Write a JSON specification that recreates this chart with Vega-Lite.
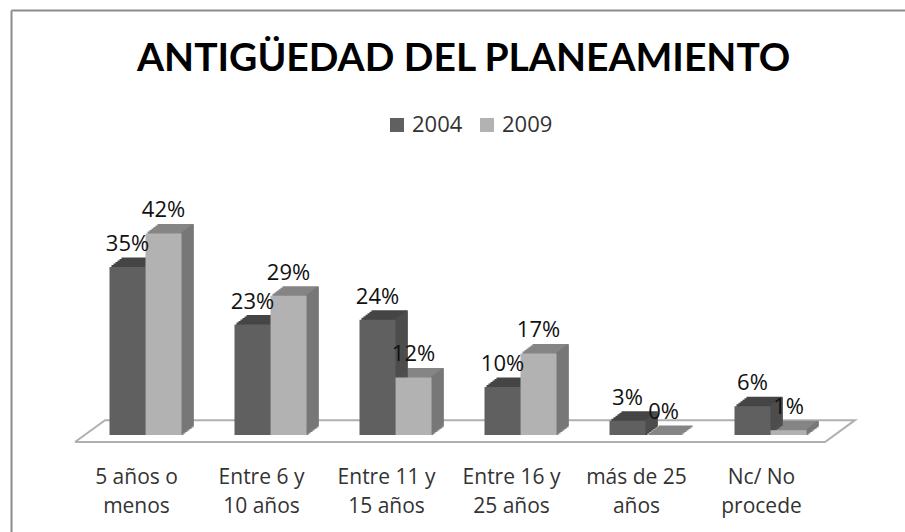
{"$schema":"https://vega.github.io/schema/vega-lite/v6.json","width":894,"height":522,"autosize":{"type":"none"},"padding":{"left":11,"top":10,"right":0,"bottom":0},"background":"white","view":{"stroke":null},
"title":{"text":"ANTIGÜEDAD DEL PLANEAMIENTO","font":"Lato","fontSize":39,"fontWeight":"bold","color":"#000","anchor":"start","frame":"group","dx":126,"dy":100,"baseline":"alphabetic","offset":0},
"datasets":{"bars":[{"c":"5 años o|menos","s":"2004","v":0.35},{"c":"5 años o|menos","s":"2009","v":0.42},{"c":"Entre 6 y|10 años","s":"2004","v":0.23},{"c":"Entre 6 y|10 años","s":"2009","v":0.29},{"c":"Entre 11 y|15 años","s":"2004","v":0.24},{"c":"Entre 11 y|15 años","s":"2009","v":0.12},{"c":"Entre 16 y|25 años","s":"2004","v":0.10},{"c":"Entre 16 y|25 años","s":"2009","v":0.17},{"c":"más de 25|años","s":"2004","v":0.03},{"c":"más de 25|años","s":"2009","v":0},{"c":"Nc/ No|procede","s":"2004","v":0.06},{"c":"Nc/ No|procede","s":"2009","v":0.01}],
"floor":[{"u":-0.064,"p":-0.0146,"o":1},{"u":0.176,"p":0.031,"o":2},{"u":6.176,"p":0.031,"o":3},{"u":5.936,"p":-0.0146,"o":4},{"u":-0.064,"p":-0.0146,"o":5}]},
"resolve":{"scale":{"x":"independent"},"axis":{"x":"independent"}},
"layer":[
{"data":{"name":"floor"},"mark":{"type":"line","color":"#b0b0b0","strokeWidth":2,"clip":false},"encoding":{
"x":{"field":"u","type":"quantitative","scale":{"domain":[-0.576,6.576],"nice":false,"zero":false},"axis":{"orient":"top","title":null,"labels":false,"ticks":false,"grid":false,"domain":true,"domainColor":"#8c8c8c","domainWidth":2}},
"y":{"field":"p","type":"quantitative","scale":{"domain":[-0.202,0.8854],"nice":false,"zero":false},"axis":{"title":null,"labels":false,"ticks":false,"grid":false,"domain":true,"domainColor":"#8c8c8c","domainWidth":2}},
"order":{"field":"o"}}},
{"data":{"name":"bars"},
"resolve":{"scale":{"xOffset":"independent"}},
"encoding":{
"x":{"field":"c","type":"nominal","sort":null,"scale":{"range":[72,822],"paddingInner":0,"paddingOuter":0},"axis":{"title":null,"orient":"bottom","offset":-87,"domain":false,"ticks":false,"labelAngle":0,"labelOffset":-9,"labelPadding":21,"labelFontSize":21,"labelFont":"Open Sans","labelColor":"#333","labelLineHeight":29,"labelBaseline":"top","labelExpr":"split(datum.label,'|')"}},
"y":{"field":"v","type":"quantitative"}},
"layer":[
{"mark":{"type":"bar","width":34,"yOffset":-8.5,"strokeWidth":2},"encoding":{"stroke":{"condition":{"test":"datum.s=='2004'","value":"#454545"},"value":"#858585"},"fill":{"condition":{"test":"datum.s=='2004'","value":"#454545"},"value":"#858585"},"xOffset":{"field":"s","type":"nominal","scale":{"paddingInner":0,"paddingOuter":0.736,"range":[12,137]}}}},
{"mark":{"type":"bar","width":34,"yOffset":-7,"strokeWidth":2},"encoding":{"stroke":{"condition":{"test":"datum.s=='2004'","value":"#454545"},"value":"#858585"},"fill":{"condition":{"test":"datum.s=='2004'","value":"#454545"},"value":"#858585"},"xOffset":{"field":"s","type":"nominal","scale":{"paddingInner":0,"paddingOuter":0.736,"range":[10,135]}}}},
{"mark":{"type":"bar","width":34,"yOffset":-5.5,"strokeWidth":2},"encoding":{"stroke":{"condition":{"test":"datum.s=='2004'","value":"#454545"},"value":"#858585"},"fill":{"condition":{"test":"datum.s=='2004'","value":"#454545"},"value":"#858585"},"xOffset":{"field":"s","type":"nominal","scale":{"paddingInner":0,"paddingOuter":0.736,"range":[8,133]}}}},
{"mark":{"type":"bar","width":34,"yOffset":-4,"strokeWidth":2},"encoding":{"stroke":{"condition":{"test":"datum.s=='2004'","value":"#454545"},"value":"#858585"},"fill":{"condition":{"test":"datum.s=='2004'","value":"#454545"},"value":"#858585"},"xOffset":{"field":"s","type":"nominal","scale":{"paddingInner":0,"paddingOuter":0.736,"range":[6,131]}}}},
{"mark":{"type":"bar","width":34,"yOffset":-2.5,"strokeWidth":2},"encoding":{"stroke":{"condition":{"test":"datum.s=='2004'","value":"#454545"},"value":"#858585"},"fill":{"condition":{"test":"datum.s=='2004'","value":"#454545"},"value":"#858585"},"xOffset":{"field":"s","type":"nominal","scale":{"paddingInner":0,"paddingOuter":0.736,"range":[4,129]}}}},
{"mark":{"type":"bar","width":34,"yOffset":-1,"strokeWidth":2},"encoding":{"stroke":{"condition":{"test":"datum.s=='2004'","value":"#454545"},"value":"#858585"},"fill":{"condition":{"test":"datum.s=='2004'","value":"#454545"},"value":"#858585"},"xOffset":{"field":"s","type":"nominal","scale":{"paddingInner":0,"paddingOuter":0.736,"range":[2,127]}}}},
{"mark":{"type":"bar","width":2.5,"yOffset":-9},"encoding":{"fill":{"condition":{"test":"datum.s=='2004'","value":"#4d4d4d"},"value":"#777777"},"xOffset":{"field":"s","type":"nominal","scale":{"paddingInner":0,"paddingOuter":0.736,"range":[29,154]}}}},
{"mark":{"type":"bar","width":2.5,"yOffset":-7.5},"encoding":{"fill":{"condition":{"test":"datum.s=='2004'","value":"#4d4d4d"},"value":"#777777"},"xOffset":{"field":"s","type":"nominal","scale":{"paddingInner":0,"paddingOuter":0.736,"range":[27,152]}}}},
{"mark":{"type":"bar","width":2.5,"yOffset":-6},"encoding":{"fill":{"condition":{"test":"datum.s=='2004'","value":"#4d4d4d"},"value":"#777777"},"xOffset":{"field":"s","type":"nominal","scale":{"paddingInner":0,"paddingOuter":0.736,"range":[25,150]}}}},
{"mark":{"type":"bar","width":2.5,"yOffset":-4.5},"encoding":{"fill":{"condition":{"test":"datum.s=='2004'","value":"#4d4d4d"},"value":"#777777"},"xOffset":{"field":"s","type":"nominal","scale":{"paddingInner":0,"paddingOuter":0.736,"range":[23,148]}}}},
{"mark":{"type":"bar","width":2.5,"yOffset":-3},"encoding":{"fill":{"condition":{"test":"datum.s=='2004'","value":"#4d4d4d"},"value":"#777777"},"xOffset":{"field":"s","type":"nominal","scale":{"paddingInner":0,"paddingOuter":0.736,"range":[21,146]}}}},
{"mark":{"type":"bar","width":2.5,"yOffset":-1.5},"encoding":{"fill":{"condition":{"test":"datum.s=='2004'","value":"#4d4d4d"},"value":"#777777"},"xOffset":{"field":"s","type":"nominal","scale":{"paddingInner":0,"paddingOuter":0.736,"range":[19,144]}}}},
{"mark":{"type":"bar","width":36},"encoding":{"color":{"field":"s","type":"nominal","scale":{"domain":["2004","2009"],"range":["#606060","#b2b2b2"]},"legend":{"title":null,"orient":"none","legendX":375,"legendY":104,"direction":"horizontal","symbolType":"square","symbolSize":196,"symbolStrokeWidth":0,"labelFontSize":22,"labelFont":"Open Sans","labelColor":"#333","columnPadding":13}},"xOffset":{"field":"s","type":"nominal","scale":{"paddingInner":0,"paddingOuter":0.736}}}},
{"mark":{"type":"text","font":"Open Sans","fontSize":22,"color":"#111","dy":-23,"baseline":"middle"},"encoding":{"text":{"field":"v","type":"quantitative","format":".0%"},"xOffset":{"field":"s","type":"nominal","scale":{"type":"band","paddingInner":0,"paddingOuter":0.736}}}}
]}
]}
